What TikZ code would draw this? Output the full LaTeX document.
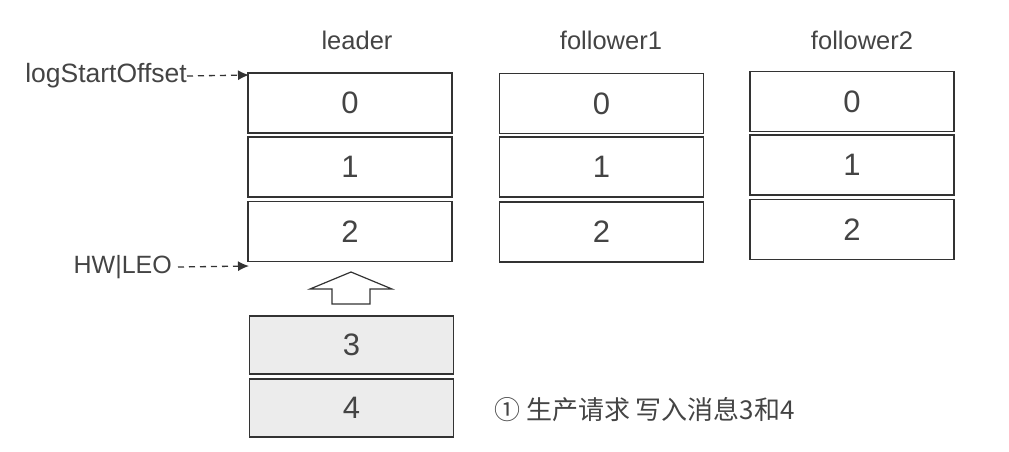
\documentclass[tikz,border=0pt]{standalone}
\usepackage{fontspec}
\setmainfont{Liberation Sans}
\newfontfamily\cjk{Noto Sans CJK SC}
\usetikzlibrary{arrows.meta}
\definecolor{ink}{HTML}{333333}
\definecolor{txt}{HTML}{444444}
\definecolor{newfill}{HTML}{ECECEC}
\tikzset{
  cell/.style={draw=ink, line width=1.3pt, fill=white, minimum width=204pt, minimum height=60pt, inner sep=0pt, font=\fontsize{31}{31}\selectfont, text=txt},
  newcell/.style={cell, fill=newfill, minimum height=58pt},
  title/.style={font=\fontsize{25.5}{25.5}\selectfont, text=txt, inner sep=0pt},
  ptr/.style={dashed, dash pattern=on 6pt off 5pt, line width=1.3pt, draw=ink, -{Latex[length=11pt,width=10pt]}},
}
\begin{document}
\begin{tikzpicture}[x=1pt,y=-1pt]
\useasboundingbox (0,0) rectangle (1009,451);
% leader
\node[cell] (l0) at (350,103) {0};
\node[cell] (l1) at (350,167) {1};
\node[cell] (l2) at (350,231.5) {2};
% follower1
\node[cell] (a0) at (601.5,103.5) {0};
\node[cell] (a1) at (601.5,167) {1};
\node[cell] (a2) at (601.5,232) {2};
% follower2
\node[cell] (b0) at (852,101.5) {0};
\node[cell] (b1) at (852,165) {1};
\node[cell] (b2) at (852,229.5) {2};
% new messages
\node[newcell] (n3) at (351.5,345) {3};
\node[newcell] (n4) at (351.5,408) {4};
% titles
\node[title] (tl) at (357,40) {leader};
\node[title] (tf1) at (611,40) {follower1};
\node[title] (tf2) at (862,40) {follower2};
% pointers
\node[title, anchor=east, font=\fontsize{26.5}{26.5}\selectfont] (lso) at (187,76) {logStartOffset};
\node[title, anchor=east, font=\fontsize{25}{25}\selectfont] (hw) at (172,267) {HW|LEO};
\coordinate (lsoend) at (249,75);
\coordinate (hwend) at (249,266);
\draw[ptr] (lso.east) -- (lsoend);
\draw[ptr] ([xshift=6pt]hw.east) -- (hwend);
% hollow up arrow
\draw[draw=ink, line width=1.2pt, fill=white, line join=miter]
  (351,272) -- (392,289) -- (370,289) -- (370,304) -- (332,304) -- (332,289) -- (310,289) -- cycle;
% annotation
\node[title, anchor=west, font=\cjk\fontsize{26}{26}\selectfont] (note) at (494,410) {① 生产请求 写入消息3和4};
\end{tikzpicture}
\end{document}
